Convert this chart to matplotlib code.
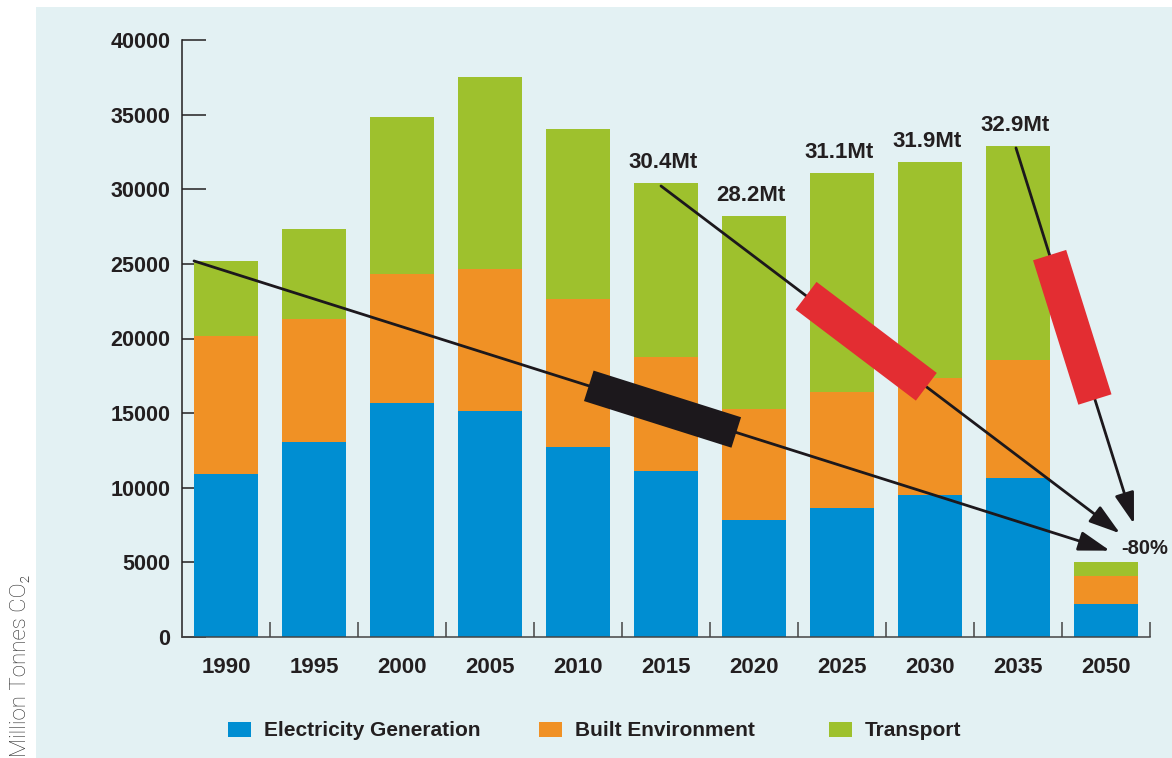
import numpy as np
import matplotlib
matplotlib.use('Agg')
import matplotlib.pyplot as plt
from matplotlib.patches import Rectangle

# emissions by sector, million tonnes CO2
years = ['1990', '1995', '2000', '2005', '2010', '2015', '2020', '2025', '2030', '2035', '2050']
electricity = [10900, 13050, 15690, 15160, 12740, 11110, 7850, 8650, 9500, 10660, 2190]
built_env = [9270, 8240, 8660, 9500, 9910, 7650, 7420, 7780, 7870, 7920, 1880]
transport = [5030, 6050, 10510, 12880, 11400, 11660, 12950, 14670, 14470, 14330, 940]

labelled_years = ['2015', '2020', '2025', '2030', '2035']
total_labels = ['30.4Mt', '28.2Mt', '31.1Mt', '31.9Mt', '32.9Mt']
target_label = '-80%'

series_names = ['Electricity Generation', 'Built Environment', 'Transport']

BLUE = '#008ed2'
ORANGE = '#f09125'
GREEN = '#9ec12d'
BG = '#e3f1f3'
RED = '#e32d32'
INK = '#1c181c'
TXT = '#231f20'

W, H = 1172, 758
fig = plt.figure(figsize=(W / 100, H / 100), dpi=100)
fig.patch.set_facecolor('white')
# light blue panel behind everything
fig.add_artist(Rectangle((36 / W, 0), 1, 1 - 7 / H, transform=fig.transFigure,
                         facecolor=BG, edgecolor='none', zorder=-5))

ax = fig.add_axes([182 / W, 1 - 636.7 / H, (1150 - 182) / W, (636.7 - 40.3) / H])
ax.set_facecolor('none')

x = np.arange(len(years))
elec = np.array(electricity)
built = np.array(built_env)
trans = np.array(transport)
totals = elec + built + trans
bw = 64 / 88

ax.bar(x, elec, bw, color=BLUE, linewidth=0, zorder=2)
ax.bar(x, built, bw, bottom=elec, color=ORANGE, linewidth=0, zorder=2)
ax.bar(x, trans, bw, bottom=elec + built, color=GREEN, linewidth=0, zorder=2)

ax.set_xlim(-0.5, 10.5)
ax.set_ylim(0, 40000)

bold = dict(family='Liberation Sans', weight='bold', color=TXT)

ax.set_yticks(np.arange(0, 40001, 5000))
ax.set_yticklabels([str(v) for v in range(0, 40001, 5000)], fontsize=15.5, **bold)
ax.set_xticks(x)
ax.set_xticklabels(years, fontsize=16, **bold)
ax.set_xticks(x + 0.5, minor=True)

ax.tick_params(axis='y', direction='in', length=17, width=1.1, color=TXT, pad=8.5)
ax.tick_params(axis='x', which='major', length=0, pad=14.5)
ax.tick_params(axis='x', which='minor', direction='in', length=11, width=1.1, color='#444444')

for s in ['top', 'right']:
    ax.spines[s].set_visible(False)
ax.spines['left'].set_color(TXT)
ax.spines['left'].set_linewidth(1.1)
ax.spines['bottom'].set_color('#444444')
ax.spines['bottom'].set_linewidth(1.1)

# totals above the projected bars
for yr, lab in zip(labelled_years, total_labels):
    i = years.index(yr)
    ax.annotate(lab, (i, totals[i]), xytext=(-2, 15), textcoords='offset points',
                ha='center', va='center', fontsize=16, **bold)

ax.annotate(target_label, (10, totals[10]), xytext=(28, 10), textcoords='offset points',
            ha='center', va='center', fontsize=14.5, **bold)

# trend arrows towards the 2050 target: (start, end, thick segment t0-t1, colour, width)
arrows = [
    ((0 - bw / 2, totals[0]), (10.045, totals[10] + 760), (0.431, 0.592), INK, 23),
    ((5 - 0.057, totals[5] - 190), (10.16, totals[10] + 1920), (0.316, 0.578), RED, 25),
    ((9 - 0.023, totals[9] - 130), (10.318, totals[10] + 2550), (0.285, 0.669), RED, 25),
]
for (x0, y0), (x1, y1), (t0, t1), col, lw in arrows:
    ax.annotate('', xy=(x1, y1), xytext=(x0, y0),
                arrowprops=dict(arrowstyle='-|>,head_length=1.6,head_width=0.5',
                                color=INK, lw=2, shrinkA=0, shrinkB=0, mutation_scale=12),
                zorder=3)
    ax.plot([x0 + t0 * (x1 - x0), x0 + t1 * (x1 - x0)],
            [y0 + t0 * (y1 - y0), y0 + t1 * (y1 - y0)],
            color=col, lw=lw, solid_capstyle='butt', zorder=4)

# legend drawn by hand so the gaps match the original
legend_x = [228, 539, 829]
for name, col, lx in zip(series_names, [BLUE, ORANGE, GREEN], legend_x):
    fig.add_artist(Rectangle((lx / W, 1 - 737 / H), 23 / W, 15 / H,
                             transform=fig.transFigure, facecolor=col, edgecolor='none'))
    fig.text((lx + 36) / W, 1 - 730.5 / H, name, ha='left', va='center',
             fontsize=15, **bold)

fig.text(21 / W, 0.001, 'Million Tonnes CO\u2082', rotation=90, ha='center', va='bottom',
         fontsize=16, family='Roboto', weight='light', color='#2e2e2e')

fig.savefig('out.png', dpi=100)
